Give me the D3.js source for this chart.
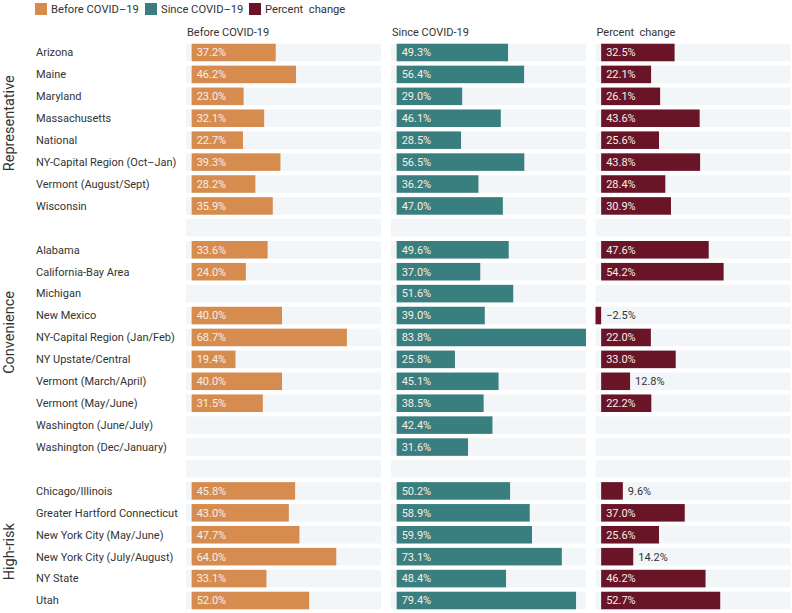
<!DOCTYPE html>
<html>
<head>
<meta charset="utf-8">
<script src="https://cdn.jsdelivr.net/npm/d3@7"></script>
<style>
  body { margin: 0; background: #fff; }
  text { font-family: Roboto, "Noto Sans", sans-serif; }
</style>
</head>
<body>
<svg id="chart" width="792" height="613"></svg>
<script>
// ---------------- DATA ----------------
const groups = ["Representative", "Convenience", "High-risk"];
const rowGroups = [
  "Representative","Representative","Representative","Representative","Representative","Representative","Representative","Representative",
  "Convenience","Convenience","Convenience","Convenience","Convenience","Convenience","Convenience","Convenience","Convenience","Convenience",
  "High-risk","High-risk","High-risk","High-risk","High-risk","High-risk"
];
const categories = [
  "Arizona","Maine","Maryland","Massachusetts","National","NY-Capital Region (Oct–Jan)","Vermont (August/Sept)","Wisconsin",
  "Alabama","California-Bay Area","Michigan","New Mexico","NY-Capital Region (Jan/Feb)","NY Upstate/Central","Vermont (March/April)","Vermont (May/June)","Washington (June/July)","Washington (Dec/January)",
  "Chicago/Illinois","Greater Hartford Connecticut","New York City (May/June)","New York City (July/August)","NY State","Utah"
];
const beforeCovid = [
  37.2, 46.2, 23.0, 32.1, 22.7, 39.3, 28.2, 35.9,
  33.6, 24.0, null, 40.0, 68.7, 19.4, 40.0, 31.5, null, null,
  45.8, 43.0, 47.7, 64.0, 33.1, 52.0
];
const sinceCovid = [
  49.3, 56.4, 29.0, 46.1, 28.5, 56.5, 36.2, 47.0,
  49.6, 37.0, 51.6, 39.0, 83.8, 25.8, 45.1, 38.5, 42.4, 31.6,
  50.2, 58.9, 59.9, 73.1, 48.4, 79.4
];
const percentChange = [
  32.5, 22.1, 26.1, 43.6, 25.6, 43.8, 28.4, 30.9,
  47.6, 54.2, null, -2.5, 22.0, 33.0, 12.8, 22.2, null, null,
  9.6, 37.0, 25.6, 14.2, 46.2, 52.7
];
const seriesNames = ["Before COVID–19", "Since COVID–19", "Percent  change"];
const panelTitles = ["Before COVID-19", "Since COVID-19", "Percent  change"];
const seriesColors = ["#D68C4F", "#3A7F80", "#6A1428"];

// ---------------- LAYOUT ----------------
const svg = d3.select("#chart");
const bg = "#F3F6F8";
const textColor = "#333333";

// row order with spacer rows between groups
const rowKeys = [];
categories.forEach((c, i) => {
  if (i > 0 && rowGroups[i] !== rowGroups[i - 1]) rowKeys.push("__gap" + i);
  rowKeys.push(c);
});

const step = 21.92;
const y = d3.scaleBand()
  .domain(rowKeys)
  .range([52.5 - step / 2, 52.5 + step * (rowKeys.length - 0.5)])
  .paddingInner(0.2)
  .paddingOuter(0.1);

const panelX = [186, 391, 595.5];
const panelW = 195;
const xDomain = [-2.5, d3.max(sinceCovid)];
const seriesValues = [beforeCovid, sinceCovid, percentChange];

// ---------------- LEGEND ----------------
const legendX = [35, 145, 249];
const legend = svg.append("g");
seriesNames.forEach((name, i) => {
  legend.append("rect")
    .attr("x", legendX[i]).attr("y", 3)
    .attr("width", 12).attr("height", 12)
    .attr("fill", seriesColors[i]);
  legend.append("text")
    .attr("x", legendX[i] + 16).attr("y", 13)
    .attr("font-size", 11.2)
    .attr("fill", textColor)
    .attr("xml:space", "preserve")
    .style("white-space", "pre")
    .text(name);
});

// ---------------- ROW LABELS ----------------
svg.append("g").selectAll("text")
  .data(categories)
  .join("text")
  .attr("x", 36)
  .attr("y", d => y(d) + y.bandwidth() / 2)
  .attr("dy", "0.35em")
  .attr("font-size", 11)
  .attr("fill", textColor)
  .text(d => d);

// group labels (rotated)
const groupLabelOffset = { "Representative": -6, "Convenience": -16, "High-risk": 6 };
groups.forEach(g => {
  const rows = categories.filter((c, i) => rowGroups[i] === g);
  const yc = (y(rows[0]) + y(rows[rows.length - 1]) + y.bandwidth()) / 2 + groupLabelOffset[g];
  svg.append("text")
    .attr("transform", `translate(14,${yc}) rotate(-90)`)
    .attr("text-anchor", "middle")
    .attr("font-size", 14.5)
    .attr("fill", textColor)
    .text(g);
});

// ---------------- PANELS ----------------
const fmt = v => (v < 0 ? "−" : "") + Math.abs(v).toFixed(1) + "%";
seriesValues.forEach((vals, p) => {
  const x = d3.scaleLinear().domain(xDomain).range([panelX[p], panelX[p] + panelW]);
  const g = svg.append("g");

  g.append("text")
    .attr("x", panelX[p] + 1).attr("y", 36)
    .attr("font-size", 11)
    .attr("fill", textColor)
    .attr("xml:space", "preserve")
    .style("white-space", "pre")
    .text(panelTitles[p]);

  // background bands
  g.selectAll("rect.bg")
    .data(rowKeys)
    .join("rect")
    .attr("class", "bg")
    .attr("x", panelX[p])
    .attr("y", d => y(d))
    .attr("width", panelW)
    .attr("height", y.bandwidth())
    .attr("fill", bg);

  const data = categories.map((c, i) => ({ c, v: vals[i] })).filter(d => d.v !== null);

  g.selectAll("rect.bar")
    .data(data)
    .join("rect")
    .attr("class", "bar")
    .attr("x", d => x(Math.min(0, d.v)))
    .attr("y", d => y(d.c))
    .attr("width", d => Math.abs(x(d.v) - x(0)))
    .attr("height", y.bandwidth())
    .attr("fill", seriesColors[p]);

  g.selectAll("text.val")
    .data(data)
    .join("text")
    .attr("class", "val")
    .attr("font-size", 11)
    .attr("dy", "0.35em")
    .attr("y", d => y(d.c) + y.bandwidth() / 2)
    .each(function (d) {
      const w = Math.abs(x(d.v) - x(0));
      const inside = d.v > 0 && w >= 40;
      d3.select(this)
        .attr("x", inside ? x(0) + 5 : x(Math.max(0, d.v)) + 5)
        .attr("fill", inside ? "#F7EFE6" : textColor);
    })
    .text(d => fmt(d.v));
});
</script>
</body>
</html>
